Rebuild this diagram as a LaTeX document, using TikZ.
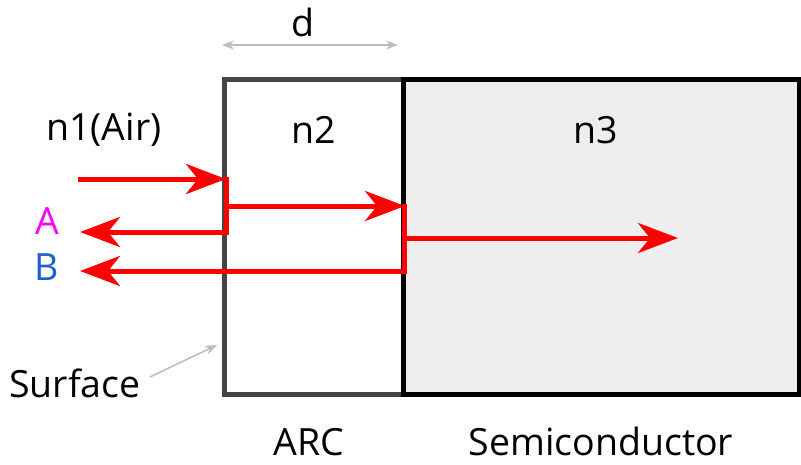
\documentclass[tikz,border=0pt]{standalone}
\usepackage{fontspec}
\setmainfont{Open Sans}
\usetikzlibrary{arrows.meta}
\definecolor{ray}{HTML}{FF0000}
\definecolor{arcgray}{HTML}{444444}
\definecolor{semifill}{HTML}{EEEEEE}
\definecolor{lightg}{HTML}{BBBBBB}
\definecolor{mag}{HTML}{FF00FF}
\definecolor{blu}{HTML}{1F5FCC}
\tikzset{
  lbl/.style={font=\fontsize{37.5}{44}\selectfont, inner sep=0pt},
  bottomlbl/.style={lbl, anchor=base},
  rayline/.style={draw=ray, line width=5pt},
  rayarrow/.style={draw=ray, line width=5pt, -{Stealth[length=40pt,width=30pt,inset=12pt]}},
  dimarrow/.style={draw=lightg, line width=1.5pt, {Stealth[length=12pt,width=9pt,inset=4pt]}-{Stealth[length=12pt,width=9pt,inset=4pt]}},
  surfarrow/.style={draw=lightg, line width=1.5pt, -{Stealth[length=12pt,width=9pt,inset=4pt]}}
}
\begin{document}
\begin{tikzpicture}[x=1pt,y=-1pt]
\useasboundingbox (0,0) rectangle (801,464);
% boxes
\fill[semifill] (403,79) rectangle (799,394);
\draw[arcgray, line width=5pt] (403,79) -- (224.5,79) -- (224.5,394.5) -- (403,394.5);
\draw[black, line width=5pt] (403,79) rectangle (799,394.5);
% dimension
\coordinate (dl) at (222,45);
\coordinate (dr) at (398,45);
\draw[dimarrow] (dl) -- (dr);
\node[lbl] (d) at (303,22) {d};
% labels
\node[lbl] (n1) at (104,130) {n1(Air)};
\node[lbl] (n2) at (314,130) {n2};
\node[lbl] (n3) at (596,130) {n3};
\node[lbl, text=mag] (A) at (47,221) {A};
\node[lbl, text=blu] (B) at (47,267) {B};
\node[lbl] (surf) at (75,383) {Surface};
\node[bottomlbl] (arc) at (309,455) {ARC};
\node[bottomlbl] (semi) at (601,455) {Semiconductor};
% rays
\coordinate (i0) at (78,179);
\coordinate (i1) at (226,179);
\coordinate (v1t) at (226,177);
\coordinate (v1b) at (226,235);
\coordinate (r1s) at (226,232);
\coordinate (r1e) at (80,232);
\coordinate (t1s) at (226,206);
\coordinate (t1e) at (405,206);
\coordinate (v2t) at (404,204);
\coordinate (v2b) at (404,274);
\coordinate (t2s) at (404,238);
\coordinate (t2e) at (678,238);
\coordinate (r2s) at (406,271);
\coordinate (r2e) at (80,271);
\draw[rayline] (v1t) -- (v1b);
\draw[rayline] (v2t) -- (v2b);
\draw[rayarrow] (i0) -- (i1);
\draw[rayarrow] (t1s) -- (t1e);
\draw[rayarrow] (r1s) -- (r1e);
\draw[rayarrow] (t2s) -- (t2e);
\draw[rayarrow] (r2s) -- (r2e);
% surface pointer
\coordinate (sp) at (217,345);
\draw[surfarrow] (150,377) -- (sp);
\end{tikzpicture}
\end{document}
